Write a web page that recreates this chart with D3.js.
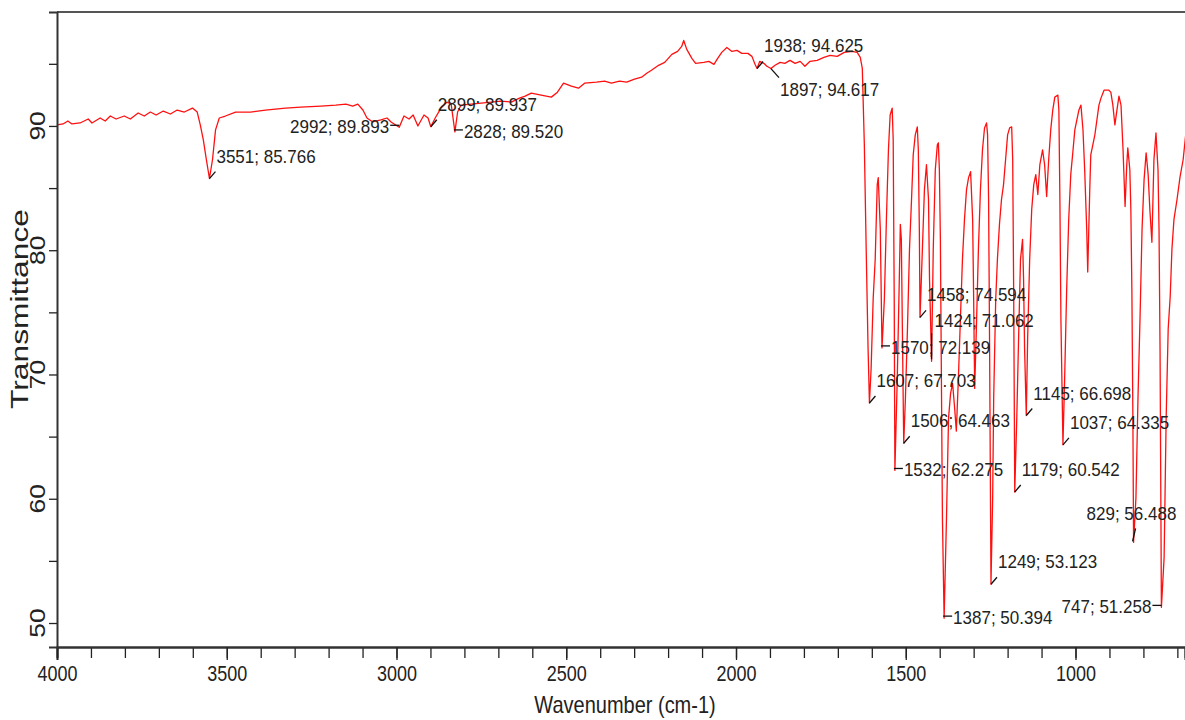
<!DOCTYPE html>
<html>
<head>
<meta charset="utf-8">
<script src="https://cdn.jsdelivr.net/npm/d3@7"></script>
<style>
  body { margin: 0; background: #fff; }
  svg { display: block; }
</style>
</head>
<body>
<div id="chart"></div>
<script>
// IR spectrum: [wavenumber, transmittance]
const broadRegion = [
  [4000,90.08],[3982,90.16],[3968,90.4],[3956,90.16],[3932,90.24],[3908,90.56],[3897,90.24],[3873,90.64],
  [3858,90.4],[3843,90.8],[3826,90.56],[3802,90.8],[3784,90.56],[3761,91.04],[3743,90.8],[3725,91.12],
  [3708,90.88],[3687,91.2],[3666,90.96],[3646,91.28],[3625,91.12],[3601,91.44],[3587,91.12],[3578,90.08],
  [3569,88.88],[3560,87.28],[3551,85.77],[3542,87.28],[3533,89.68],[3522,90.64],[3504,90.8],[3474,91.12],
  [3430,91.12],[3386,91.28],[3327,91.44],[3282,91.52],[3223,91.6],[3179,91.68],[3149,91.76],[3129,91.6],
  [3114,91.76],[3099,91.28],[3087,90.64],[3070,90.32],[3046,90.48],[3028,90.64],[3016,90.32],[2992,89.89],
  [2978,90.8],[2963,90.56],[2951,90.88],[2937,90.0],[2919,90.88],[2907,90.64],[2899,89.94],[2886,90.64],
  [2869,91.44],[2851,91.92],[2839,91.76],[2828,89.52],[2820,91.12],[2810,91.68],[2780,91.76],[2751,91.84],
  [2721,91.92],[2692,92.0],[2662,91.92],[2638,92.24],[2621,92.4],[2603,92.64],[2574,92.48],[2544,92.32],
  [2526,92.72],[2508,93.44],[2485,93.2],[2464,93.04],[2446,93.44],[2411,93.52],[2387,93.6],[2367,93.44],
  [2343,93.6],[2322,93.52],[2299,93.76],[2278,93.92],[2263,94.24],[2249,94.48],[2228,94.88],[2210,95.12],
  [2189,95.76],[2172,96.0],[2160,96.4],[2154,96.88],[2145,96.16],[2130,95.44],[2119,95.04],[2095,95.12],
  [2080,95.2],[2065,94.96],[2054,95.44],[2042,95.92],[2027,96.32],[2012,96.0],[1997,96.08],[1983,95.84],
  [1965,95.84],[1953,95.6],[1944,94.96],[1938,94.63],[1930,95.2],[1918,95.04],[1909,94.8],[1897,94.62],
  [1885,94.88],[1870,95.12],[1856,95.04],[1841,95.28],[1826,95.04],[1811,95.2],[1797,94.8],[1782,95.2],
  [1761,95.28],[1741,95.52],[1723,95.68],[1702,95.6],[1681,95.92],[1658,96.0],[1643,95.92],[1634,95.52],
  [1628,94.64],[1622,88.48]
];

const fingerprint = [
  [1616,79.28],[1611,72.08],[1607,67.70],[1602,70.48],[1596,76.08],[1590,79.28],[1584,85.28],[1581,85.84],
  [1575,81.68],[1570,72.14],[1563,76.08],[1557,82.48],[1551,88.08],[1546,90.88],[1540,91.44],[1537,88.88],
  [1534,76.08],[1532,62.28],[1525,69.68],[1519,77.68],[1516,82.08],[1513,80.88],[1510,73.68],[1506,64.46],
  [1501,68.08],[1495,73.68],[1489,80.08],[1483,84.08],[1478,87.68],[1472,89.28],[1466,89.92],[1463,88.08],
  [1460,81.68],[1458,74.59],[1451,80.08],[1445,84.88],[1439,86.88],[1433,84.08],[1430,77.68],[1424,71.06],
  [1419,80.08],[1413,86.48],[1407,88.48],[1404,88.64],[1401,86.48],[1398,80.88],[1395,69.68],[1392,58.48],
  [1387,50.39],[1380,58.48],[1374,66.48],[1368,68.48],[1362,69.28],[1356,67.28],[1351,65.44],[1345,69.68],
  [1339,74.48],[1333,79.28],[1327,82.48],[1321,84.88],[1315,85.84],[1309,86.32],[1303,82.48],[1300,76.08],
  [1297,68.88],[1292,73.68],[1286,80.08],[1280,84.88],[1274,88.08],[1268,89.84],[1262,90.24],[1259,89.28],
  [1256,84.08],[1253,72.08],[1249,53.12],[1244,60.08],[1241,68.08],[1235,76.08],[1230,79.28],[1224,82.08],
  [1218,84.08],[1212,85.28],[1206,87.28],[1200,89.28],[1194,89.84],[1188,89.92],[1185,87.28],[1182,76.08],
  [1179,60.54],[1173,66.48],[1167,73.68],[1162,79.28],[1156,80.88],[1153,77.68],[1150,72.08],[1145,66.70],
  [1141,72.88],[1135,79.28],[1129,83.28],[1123,85.28],[1117,86.08],[1111,84.48],[1105,86.88],[1097,88.08],
  [1091,86.88],[1085,84.32],[1079,87.28],[1073,89.68],[1067,91.28],[1061,92.32],[1052,92.48],[1049,91.28],
  [1046,84.08],[1043,74.48],[1037,64.34],[1032,69.68],[1026,76.88],[1020,82.48],[1014,86.08],[1008,87.84],
  [1002,89.68],[996,90.48],[990,91.28],[984,91.68],[978,89.68],[973,86.48],[967,81.68],[964,78.24],
  [958,84.88],[955,87.68],[949,88.48],[943,89.28],[937,90.48],[931,91.68],[925,92.24],[916,92.88],
  [902,92.88],[896,92.72],[890,91.68],[884,90.08],[878,91.28],[872,92.4],[866,91.68],[860,88.08],
  [854,83.52],[849,86.88],[846,88.24],[840,86.48],[837,83.28],[834,76.88],[831,66.48],[829,56.49],
  [822,60.08],[816,68.08],[810,74.48],[804,81.68],[798,85.68],[792,87.84],[786,86.08],[781,83.28],
  [775,80.64],[769,87.28],[763,89.44],[757,86.48],[754,81.68],[751,72.08],[747,51.26],[739,55.28],
  [733,66.48],[727,73.68],[721,76.32],[716,80.08],[710,82.48],[701,84.08],[692,85.92],[683,87.28],
  [674,89.68],[668,90.72]
];

// picked peaks
const peakWave = [3551, 2992, 2899, 2828, 1938, 1897, 1607, 1570, 1532, 1506, 1458, 1424, 1387, 1249, 1179, 1145, 1037, 829, 747];
const peakT = [85.766, 89.893, 89.937, 89.520, 94.625, 94.617, 67.703, 72.139, 62.275, 64.463, 74.594, 71.062, 50.394, 53.123, 60.542, 66.698, 64.335, 56.488, 51.258];
// where each label sits relative to its peak
const peakSide = ["ne","w","ne","e","ne","se","ne","e","e","ne","ne","n","e","ne","ne","ne","ne","n2","w"];

const xMajor = [4000, 3500, 3000, 2500, 2000, 1500, 1000];
const xMinor = d3.range(4000, 600, -100);
const yMajor = [50, 60, 70, 80, 90];
const yMinor = [50, 55, 60, 65, 70, 75, 80, 85, 90, 95];

const W = 1185, H = 720;
const m = { left: 57, right: 1185, top: 12, bottom: 647 };

const svg = d3.select("#chart").append("svg")
  .attr("width", W)
  .attr("height", H)
  .style("font-family", "'Liberation Sans', Arial, sans-serif");

const x = d3.scaleLinear().domain([4000, 677.5]).range([m.left, m.right]);
const y = d3.scaleLinear().domain([48.07, 99.17]).range([m.bottom, m.top]);

svg.append("clipPath").attr("id", "plot")
  .append("rect").attr("x", m.left).attr("y", m.top)
  .attr("width", m.right - m.left).attr("height", m.bottom - m.top);

// spectrum
const line = d3.line().x(d => x(d[0])).y(d => y(d[1]));
svg.append("path")
  .datum(broadRegion.concat(fingerprint))
  .attr("clip-path", "url(#plot)")
  .attr("fill", "none")
  .attr("stroke", "#ff1010")
  .attr("stroke-width", 1.3)
  .attr("stroke-linejoin", "round")
  .attr("d", line);

// frame top
svg.append("line")
  .attr("x1", m.left).attr("x2", m.right).attr("y1", m.top).attr("y2", m.top)
  .attr("stroke", "#555").attr("stroke-width", 2);

// x axis: minor ticks then labelled ones
const xMinorAxis = svg.append("g").attr("transform", `translate(0,${m.bottom})`)
  .call(d3.axisBottom(x).tickValues(xMinor).tickSize(11).tickFormat(""));
const xAxis = svg.append("g").attr("transform", `translate(0,${m.bottom})`)
  .call(d3.axisBottom(x).tickValues(xMajor).tickSize(13).tickFormat(d3.format("d")));

// y axis
const yMinorAxis = svg.append("g").attr("transform", `translate(${m.left},0)`)
  .call(d3.axisLeft(y).tickValues(yMinor).tickSize(8).tickFormat(""));

[xMinorAxis, xAxis, yMinorAxis].forEach(g => {
  g.select(".domain").attr("stroke", "#333").attr("stroke-width", 2);
  g.selectAll(".tick line").attr("stroke", "#222").attr("stroke-width", 1.3);
});

xAxis.selectAll(".tick text").remove();
xAxis.selectAll(".tick").append("text")
  .attr("transform", "translate(0,34) scale(1,1.22)")
  .attr("text-anchor", "middle")
  .attr("fill", "#222")
  .style("font-size", "18px")
  .text(d => d);

svg.append("g").selectAll("text")
  .data(yMajor)
  .join("text")
  .attr("transform", d => `translate(45,${y(d)}) rotate(-90) scale(1.2,1)`)
  .attr("text-anchor", "middle")
  .attr("fill", "#222")
  .style("font-size", "22px")
  .text(d => d);

// axis titles
svg.append("text")
  .attr("transform", `translate(${(m.left + m.right) / 2 + 4},713) scale(1,1.2)`)
  .attr("text-anchor", "middle")
  .attr("fill", "#222")
  .style("font-size", "20px")
  .text("Wavenumber (cm-1)");

svg.append("text")
  .attr("transform", "translate(28,309) rotate(-90) scale(1.38,1)")
  .attr("text-anchor", "middle")
  .attr("fill", "#222")
  .style("font-size", "23px")
  .text("Transmittance");

// peak labels with short leaders
const fmt = d3.format(".3f");
const place = {
  ne: { lead: [0, 0, 6, -7], tx: 7, ty: -16, anchor: "start" },
  se: { lead: [0, 0, 8, 9], tx: 9, ty: 27, anchor: "start" },
  e:  { lead: [-1, -2, 8, -2], tx: 9, ty: 6, anchor: "start" },
  w:  { lead: [0, -2, -9, -2], tx: -10, ty: 6, anchor: "end" },
  n:  { lead: [0, -2, 0, -28], tx: 3, ty: -34, anchor: "start" },
  n2: { lead: [-1, -1, 2, -14], tx: -47, ty: -22, anchor: "start" }
};

const peaks = svg.append("g").selectAll("g")
  .data(peakWave.map((w, i) => ({ w: w, t: peakT[i], side: peakSide[i] })))
  .join("g")
  .attr("transform", d => `translate(${x(d.w)},${y(d.t)})`);

peaks.append("line")
  .attr("x1", d => place[d.side].lead[0]).attr("y1", d => place[d.side].lead[1])
  .attr("x2", d => place[d.side].lead[2]).attr("y2", d => place[d.side].lead[3])
  .attr("stroke", "#111").attr("stroke-width", 1.3);

peaks.append("text")
  .attr("transform", d => `translate(${place[d.side].tx},${place[d.side].ty}) scale(1,1.08)`)
  .attr("text-anchor", d => place[d.side].anchor)
  .attr("fill", "#222")
  .style("font-size", "17px")
  .text(d => `${d.w}; ${fmt(d.t)}`);
</script>
</body>
</html>
